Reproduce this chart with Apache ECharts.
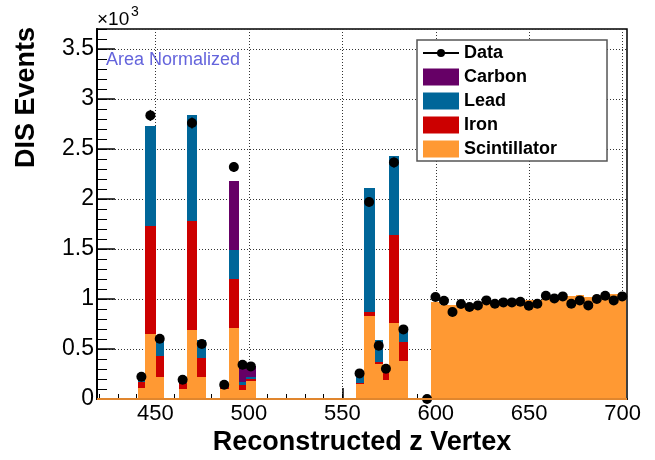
<!DOCTYPE html>
<html>
<head>
<meta charset="utf-8">
<script src="https://cdn.jsdelivr.net/npm/echarts@6.0.0/dist/echarts.min.js"></script>
<style>
  html, body { margin: 0; padding: 0; background: #fff; }
  #chart { width: 655px; height: 460px; }
</style>
</head>
<body>
<div id="chart"></div>
<script>
// bin edges, one array per run of adjacent bins (z vertex)
const groupEdges = [
  [440.5, 444.6, 450.1, 454.6],
  [462.5, 466.7, 472.5, 477.2],
  [484.4, 489.3, 494.7, 498.6, 503.6],
  [557.1, 561.4, 567.3, 571.7, 575.0, 580.3, 585.1],
  [593.1, 597.6, 602.1, 606.7, 611.2, 615.8, 620.3, 624.8, 629.4, 633.9, 638.5, 643.0, 647.5,
   652.1, 656.6, 661.2, 665.7, 670.2, 674.8, 679.3, 683.9, 688.4, 692.9, 697.5, 702.0]
];

// events per bin, x10^3, one entry per bin in the order above
const scintillator = [
  0.11, 0.65, 0.216,
  0.10, 0.69, 0.216,
  0.10, 0.71, 0.086, 0.176,
  0.153, 0.833, 0.353, 0.186, 0.76, 0.383,
  0, 0.966, 0.936, 0.936, 0.943, 0.95, 0.973, 0.976, 0.976, 0.98, 0.98, 0.985, 0.99,
  0.993, 1.02, 1.026, 1.026, 1.03, 1.036, 1.016, 1.04, 1.043, 1.055, 1.06
];
const iron = [
  0.056, 1.083, 0.217,
  0.06, 1.086, 0.194,
  0.02, 0.493, 0.054, 0.027,
  0.01, 0.04, 0.013, 0.08, 0.883, 0.187,
  0, 0, 0, 0, 0, 0, 0, 0, 0, 0, 0, 0, 0, 0, 0, 0, 0, 0, 0, 0, 0, 0, 0, 0
];
const lead = [
  0.067, 0.994, 0.184,
  0.06, 1.067, 0.176,
  0.015, 0.29, 0.026, 0.017,
  0.113, 1.237, 0.227, 0, 0.79, 0.13,
  0, 0, 0, 0, 0, 0, 0, 0, 0, 0, 0, 0, 0, 0, 0, 0, 0, 0, 0, 0, 0, 0, 0, 0
];
const carbon = [
  0, 0, 0,
  0, 0, 0,
  0.015, 0.69, 0.144, 0.106,
  0, 0, 0, 0, 0, 0,
  0, 0, 0, 0, 0, 0, 0, 0, 0, 0, 0, 0, 0, 0, 0, 0, 0, 0, 0, 0, 0, 0, 0, 0
];
const dataEvents = [
  0.223, 2.836, 0.603,
  0.193, 2.76, 0.55,
  0.143, 2.32, 0.343, 0.326,
  0.256, 1.97, 0.533, 0.303, 2.366, 0.696,
  0, 1.02, 0.983, 0.87, 0.95, 0.92, 0.936, 0.986, 0.953, 0.966, 0.966, 0.973, 0.933,
  0.953, 1.033, 1.006, 1.026, 0.953, 0.986, 0.936, 1.0, 1.033, 0.986, 1.026
];
const dataErr = [
  0.015, 0.055, 0.025,
  0.015, 0.055, 0.024,
  0.012, 0.05, 0.02, 0.02,
  0.016, 0.045, 0.023, 0.017, 0.05, 0.026,
  0, 0.032, 0.032, 0.032, 0.032, 0.032, 0.032, 0.032, 0.032, 0.032, 0.032, 0.032, 0.032,
  0.032, 0.032, 0.032, 0.032, 0.032, 0.032, 0.032, 0.032, 0.032, 0.032, 0.032
];

const xMajorTicks = [450, 500, 550, 600, 650, 700];
const xMinorTicks = [420, 430, 440, 450, 460, 470, 480, 490, 500, 510, 520, 530, 540, 550, 560,
  570, 580, 590, 600, 610, 620, 630, 640, 650, 660, 670, 680, 690, 700];

const FONT = '"Liberation Sans", Arial, sans-serif';
const X_MIN = 418.8, X_MAX = 702.3;

const bins = [];
groupEdges.forEach(function (e) {
  for (let i = 0; i < e.length - 1; i++) bins.push([e[i], e[i + 1]]);
});

// stacking order bottom -> top
const layers = [
  { name: 'Scintillator', color: '#ff9933', values: scintillator },
  { name: 'Iron', color: '#cc0000', values: iron },
  { name: 'Lead', color: '#006699', values: lead },
  { name: 'Carbon', color: '#660066', values: carbon }
];

const base = bins.map(function () { return 0; });
const stackSeries = layers.map(function (layer) {
  const rows = [];
  bins.forEach(function (b, i) {
    const v = layer.values[i];
    if (v > 0) rows.push([b[0], b[1], base[i], base[i] + v]);
    base[i] += v;
  });
  return {
    name: layer.name,
    type: 'custom',
    itemStyle: { color: layer.color },
    encode: { x: [0, 1], y: [2, 3] },
    data: rows,
    renderItem: function (params, api) {
      const p0 = api.coord([api.value(0), api.value(2)]);
      const p1 = api.coord([api.value(1), api.value(3)]);
      // snap to whole pixels so neighbouring bins don't show seams
      const x0 = Math.round(p0[0]), x1 = Math.round(p1[0]);
      const yb = Math.round(p0[1]), yt = Math.round(p1[1]);
      return {
        type: 'rect',
        shape: { x: x0, y: yt, width: x1 - x0, height: yb - yt },
        style: { fill: layer.color }
      };
    }
  };
});

// empty bins are drawn as a flat line on zero
stackSeries[0].markLine = {
  silent: true,
  symbol: 'none',
  label: { show: false },
  lineStyle: { color: '#e0862e', width: 2, type: 'solid' },
  data: [{ yAxis: 0 }]
};

const points = bins.map(function (b, i) { return [(b[0] + b[1]) / 2, dataEvents[i]]; });
const errRows = [];
bins.forEach(function (b, i) {
  if (dataErr[i] > 0) errRows.push([(b[0] + b[1]) / 2, dataEvents[i], dataErr[i]]);
});

const dataIcon = 'path://M0,3h36v2h-36z M14,4a4,4 0 1,1 8,0a4,4 0 1,1 -8,0z';

const chart = echarts.init(document.getElementById('chart'));
chart.setOption({
  animation: false,
  backgroundColor: '#fff',
  grid: {
    left: 97, right: 28, top: 29, bottom: 61,
    show: true, borderColor: '#000', borderWidth: 1.5, backgroundColor: '#fff'
  },
  xAxis: [
    {
      type: 'value', min: X_MIN, max: X_MAX, position: 'bottom',
      axisLine: { show: true, onZero: false, lineStyle: { color: '#000', width: 2 } },
      axisTick: { show: true, inside: true, length: 5, customValues: xMinorTicks, lineStyle: { color: '#000' } },
      axisLabel: { show: false },
      splitLine: { show: false }
    },
    {
      type: 'value', min: X_MIN, max: X_MAX, position: 'bottom',
      axisLine: { show: false, onZero: false },
      axisTick: { show: true, inside: true, length: 11, customValues: xMajorTicks, lineStyle: { color: '#000', width: 1.5 } },
      axisLabel: { customValues: xMajorTicks, fontFamily: FONT, fontSize: 22, color: '#000', margin: 4 },
      splitLine: { show: true, lineStyle: { color: '#333', width: 1, type: [1, 2] } }
    }
  ],
  yAxis: [
    {
      type: 'value', min: 0, max: 3.7, interval: 0.1, position: 'left',
      axisLine: { show: true, onZero: false, lineStyle: { color: '#000', width: 2 } },
      axisTick: { show: true, inside: true, length: 10, lineStyle: { color: '#000' } },
      axisLabel: { show: false },
      splitLine: { show: false }
    },
    {
      type: 'value', min: 0, max: 3.7, interval: 0.5, position: 'left',
      axisLine: { show: false, onZero: false },
      axisTick: { show: true, inside: true, length: 18, lineStyle: { color: '#000', width: 1.5 } },
      axisLabel: { showMaxLabel: false, fontFamily: FONT, fontSize: 23, color: '#000', margin: 3 },
      splitLine: { show: true, lineStyle: { color: '#333', width: 1, type: [1, 2] } }
    }
  ],
  legend: {
    orient: 'vertical',
    left: 417, top: 40,
    itemWidth: 36, itemHeight: 17, itemGap: 6,
    padding: [4, 50, 3, 6],
    borderColor: '#555', borderWidth: 1.5, backgroundColor: '#fff',
    selectedMode: false,
    textStyle: { fontFamily: FONT, fontWeight: 'bold', fontSize: 18, color: '#000', lineHeight: 17 },
    data: [
      { name: 'Data', icon: dataIcon, itemStyle: { color: '#000', opacity: 1 } },
      { name: 'Carbon', icon: 'rect' },
      { name: 'Lead', icon: 'rect' },
      { name: 'Iron', icon: 'rect' },
      { name: 'Scintillator', icon: 'rect' }
    ]
  },
  graphic: [
    {
      type: 'text', x: 27, y: 27, rotation: Math.PI / 2,
      style: { text: 'DIS Events', font: 'bold 27px ' + FONT, fill: '#000', align: 'right', verticalAlign: 'middle' }
    },
    {
      type: 'text', x: 97, y: 10,
      style: { text: '×10', font: '19px ' + FONT, fill: '#000', align: 'left', verticalAlign: 'top' }
    },
    {
      type: 'text', x: 131, y: 5,
      style: { text: '3', font: '14px ' + FONT, fill: '#000', align: 'left', verticalAlign: 'top' }
    },
    {
      type: 'text', x: 106, y: 60,
      style: { text: 'Area Normalized', font: '18px ' + FONT, fill: '#6464dc', align: 'left', verticalAlign: 'middle' }
    },
    {
      type: 'text', x: 362, y: 443,
      style: { text: 'Reconstructed z Vertex', font: 'bold 27px ' + FONT, fill: '#000', align: 'center', verticalAlign: 'middle' }
    }
  ],
  series: stackSeries.concat([
    {
      name: 'errors',
      type: 'custom',
      z: 3,
      encode: { x: 0, y: 1 },
      data: errRows,
      renderItem: function (params, api) {
        const hi = api.coord([api.value(0), api.value(1) + api.value(2)]);
        const lo = api.coord([api.value(0), api.value(1) - api.value(2)]);
        return {
          type: 'line',
          shape: { x1: hi[0], y1: hi[1], x2: lo[0], y2: lo[1] },
          style: { stroke: '#000', lineWidth: 1.5 }
        };
      }
    },
    {
      name: 'Data',
      type: 'scatter',
      z: 4,
      symbol: 'circle',
      symbolSize: 10,
      itemStyle: { color: '#000', opacity: 1 },
      data: points
    }
  ])
});
</script>
</body>
</html>
